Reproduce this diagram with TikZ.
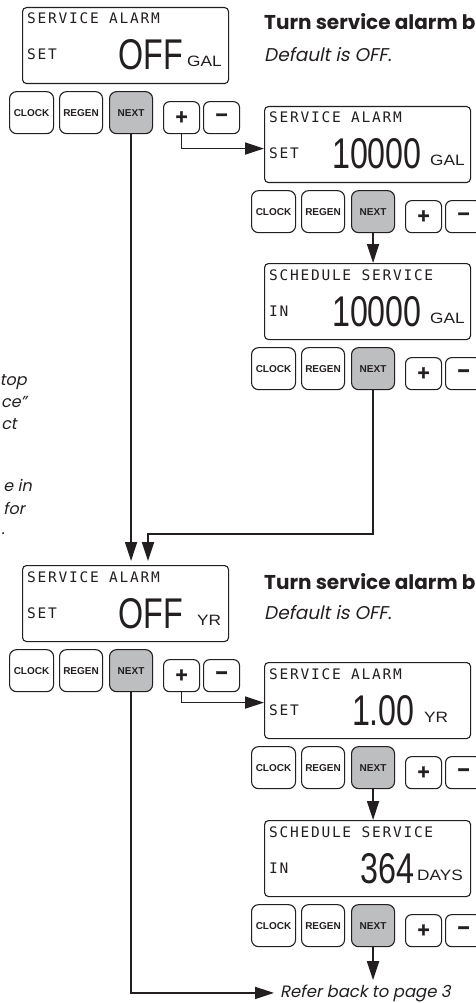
\documentclass[tikz,border=0pt]{standalone}
\usepackage{fontspec}
\usepackage{graphicx}
\usetikzlibrary{arrows.meta,calc}
\newfontfamily\lcdfont{DejaVu Sans Mono}[LetterSpace=12]
\newfontfamily\lsfont{Liberation Sans}
\newfontfamily\pmfont{Liberation Sans}[BoldFeatures={FakeBold=1.5}]
\newfontfamily\pfont{Poppins}
\newfontfamily\pitfont{Poppins}[FakeSlant=0.2]
\definecolor{ink}{HTML}{231F20}
\definecolor{nextgray}{HTML}{BCBEC0}
\tikzset{
  lcdbox/.style={draw=ink, line width=1.1pt, rounded corners=4pt, minimum width=206pt, minimum height=76pt, inner sep=0pt, anchor=north west},
  lcdtext/.style={anchor=base west, inner sep=0pt, text=ink, font=\lcdfont\fontsize{14.5}{14.5}\selectfont},
  valtext/.style={anchor=base east, inner sep=0pt, text=ink, font=\lsfont\fontsize{43}{43}\selectfont},
  unittext/.style={anchor=base west, inner sep=0pt, text=ink, font=\lsfont\fontsize{15}{15}\selectfont},
  btn/.style={draw=ink, fill=white, line width=1.1pt, rounded corners=7pt, minimum width=43pt, minimum height=42pt, inner sep=0pt, anchor=north west, text=ink, font=\lsfont\bfseries\fontsize{10}{10}\selectfont},
  nextbtn/.style={btn, fill=nextgray},
  pmbtn/.style={btn, minimum width=36pt, minimum height=32pt, rounded corners=6pt, font=\pmfont\bfseries\fontsize{21}{21}\selectfont},
  conn/.style={draw=ink, line width=1.8pt, -{Triangle[length=19pt,width=12pt]}},
  headtext/.style={anchor=base west, inner sep=0pt, text=ink, font=\pfont\bfseries\fontsize{20}{20}\selectfont},
  ittext/.style={anchor=base west, inner sep=0pt, text=ink, font=\pitfont\fontsize{18.5}{18.5}\selectfont},
  edgetext/.style={ittext, anchor=base east, font=\pitfont\fontsize{16}{16}\selectfont},
}
\newcommand\buttonrow[1]{%
  \node[btn, minimum width=44pt] (#1clock) at ($(#1.south west)+(-13,7)$) {CLOCK};
  \node[btn] (#1regen) at ($(#1.south west)+(37,7)$) {REGEN};
  \node[nextbtn] (#1next) at ($(#1.south west)+(87,7)$) {NEXT};
  \node[pmbtn] (#1plus) at ($(#1.south west)+(141,17)$) {+};
  \node[pmbtn] (#1minus) at ($(#1.south west)+(181,17)$) {−};
}
\newcommand\lcdpanel[9]{%
  \node[lcdbox] (#1) at (#2,#3) {};
  \node[lcdtext] (#1top) at ($(#1.north west)+(5,17)$) {#4};
  \node[lcdtext] (#1lab) at ($(#1.north west)+(5,53)$) {#5};
  \node[valtext] (#1val) at ($(#1.north west)+(#7,63)$) {\scalebox{0.75}[1]{#6}};
  \node[unittext] (#1unit) at ($(#1.north west)+(#9,60)$) {\scalebox{1.15}[1]{#8}};
  \buttonrow{#1}
}
\begin{document}
\begin{tikzpicture}[x=1pt,y=-1pt]
\fill[white] (0,0) rectangle (475,1003);
\useasboundingbox (0,0) rectangle (475,1003);

% headings
\node[headtext] (h1) at (264,30) {Turn service alarm b};
\node[ittext] (d1) at (264,62) {Default is OFF.};
\node[headtext] (h2) at (264,589) {Turn service alarm b};
\node[ittext] (d2) at (264,619) {Default is OFF.};

% left edge fragments
\node[edgetext] (e1) at (27,385) {top};
\node[edgetext] (e2) at (27,407) {ce”};
\node[edgetext] (e3) at (17,429) {ct};
\node[edgetext] (e4) at (32,491) {e in};
\node[edgetext] (e5) at (25,514) {for};
\node[edgetext] (e6) at (5,534) {.};

% panels
\lcdpanel{b1}{22}{7}{SERVICE ALARM}{SET}{OFF}{161}{GAL}{165}
\lcdpanel{b2}{264}{106}{SERVICE ALARM}{SET}{10000}{158}{GAL}{166}
\lcdpanel{b3}{264}{263}{SCHEDULE SERVICE}{IN}{10000}{158}{GAL}{166}
\lcdpanel{b4}{22}{565}{SERVICE ALARM}{SET}{OFF}{161}{YR}{175}
\lcdpanel{b5}{264}{662}{SERVICE ALARM}{SET}{1.00}{151}{YR}{160}
\lcdpanel{b6}{264}{820}{SCHEDULE SERVICE}{IN}{364}{151}{DAYS}{153}

\node[ittext, font=\pitfont\fontsize{16.5}{16.5}\selectfont] (refer) at (280,997) {Refer back to page 3};

% connectors
\coordinate (b2in) at ($(b2.west)+(0,4)$);
\coordinate (b5in) at ($(b5.west)+(0,2)$);
\coordinate (j1) at (148,534);
\draw[conn] (b1plus.south) |- (b2in);
\draw[conn] (b2next.south) -- (b2next.south |- b3.north);
\draw[conn, shorten >=4pt] (b1next.south) -- (b1next.south |- b4.north);
\draw[conn, shorten >=4pt] (b3next.south) |- (j1) -- (j1 |- b4.north);
\draw[conn] (b4plus.south) |- (b5in);
\draw[conn] (b5next.south) -- (b5next.south |- b6.north);
\draw[conn, shorten >=4pt] (b6next.south) -- (b6next.south |- refer.north);
\draw[conn, shorten >=6pt] (b4next.south) |- (refer.west);
\end{tikzpicture}
\end{document}
